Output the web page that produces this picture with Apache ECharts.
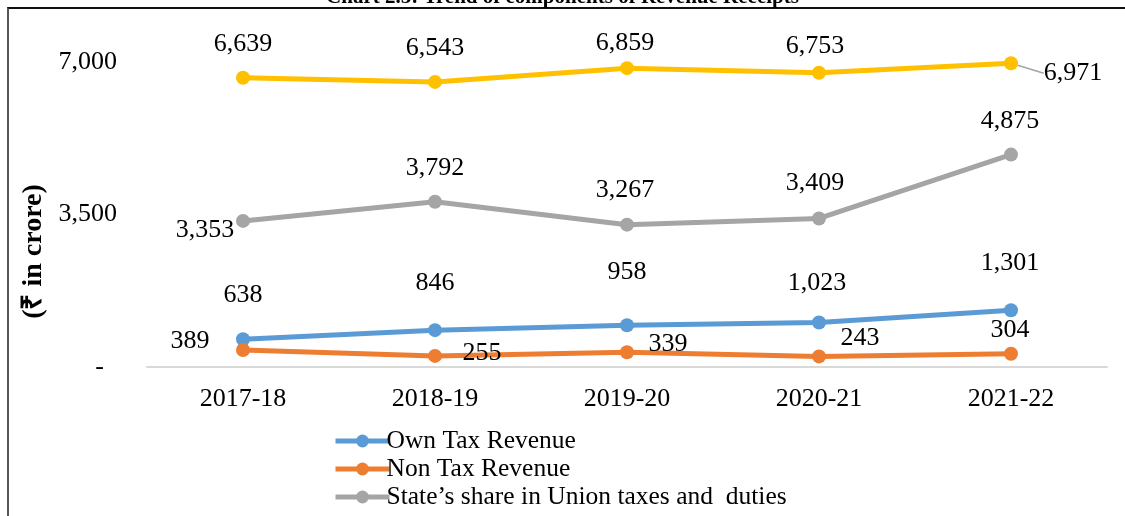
<!DOCTYPE html>
<html>
<head>
<meta charset="utf-8">
<script src="https://cdn.jsdelivr.net/npm/echarts@6/dist/echarts.min.js"></script>
<style>
  html, body { margin: 0; padding: 0; background: #fff; }
  #frame { position: absolute; left: 7px; top: 7px; width: 1118px; height: 509px;
           border-top: 2px solid #111; border-left: 2px solid #555; }
  #chartRevenue { position: absolute; left: 0; top: 0; width: 1125px; height: 516px; }
</style>
</head>
<body>
<div id="frame"></div>
<div id="chartRevenue"></div>
<script>
  // data (₹ in crore)
  var years = ['2017-18', '2018-19', '2019-20', '2020-21', '2021-22'];
  var ownTax = [638, 846, 958, 1023, 1301];
  var nonTax = [389, 255, 339, 243, 304];
  var unionShare = [3353, 3792, 3267, 3409, 4875];
  var grants = [6639, 6543, 6859, 6753, 6971];
  var yTicks = [0, 3500, 7000];

  // label offsets (centre of label vs point), as placed in the original
  var offOwn = [[0, -44], [0, -47], [0, -53], [-2, -39], [-1, -47]];
  var offNon = [[-53, -9], [47, -3], [41, -8], [41, -18], [-1, -24]];
  var offShare = [[-38, 9], [0, -34], [-2, -34], [-4, -35], [-1, -33]];
  var offGrant = [[0, -34], [0, -34], [-2, -25], [-4, -27], [62, 10]];

  var serif = '"Liberation Serif", "Times New Roman", serif';

  function withLabels(vals, offs) {
    return vals.map(function (v, i) {
      return { value: v, label: { offset: offs[i] } };
    });
  }

  function fmt(v) {
    return v.toLocaleString('en-US');
  }

  function line(name, color, vals, offs) {
    return {
      name: name,
      type: 'line',
      data: withLabels(vals, offs),
      symbol: 'circle',
      symbolSize: 14,
      lineStyle: { color: color, width: 5 },
      itemStyle: { color: color },
      label: {
        show: true,
        position: 'inside',
        color: '#000',
        fontFamily: serif,
        fontSize: 26,
        formatter: function (p) { return fmt(p.value); }
      },
      emphasis: { disabled: true },
      animation: false
    };
  }

  var myChart = echarts.init(document.getElementById('chartRevenue'));

  // grants series: labels moved by labelLayout, leader line only on the last one
  var yellow = line('Grants-in-aid from Government of India', '#FFC000', grants, offGrant);
  yellow.data = grants.map(function (v, i) {
    return { value: v, labelLine: { show: i === 4 } };
  });
  yellow.labelLine = { show: false, lineStyle: { color: '#A5A5A5', width: 1.5 } };
  yellow.labelLayout = function (p) {
    var o = offGrant[p.dataIndex];
    return { dx: o[0], dy: o[1] };
  };

  var option = {
    backgroundColor: 'transparent',
    title: {
      text: 'Chart 2.5: Trend of components of Revenue Receipts',
      left: 'center',
      top: -18,
      textStyle: { fontFamily: serif, fontSize: 21, fontWeight: 'bold', color: '#000' }
    },
    legend: {
      orient: 'vertical',
      left: 328,
      top: 423,
      height: 300,
      itemWidth: 54,
      itemHeight: 16,
      itemGap: 2,
      lineStyle: { width: 5 },
      data: ['Own Tax Revenue', 'Non Tax Revenue', 'State\u2019s share in Union taxes and  duties'],
      textStyle: { fontFamily: serif, fontSize: 25.5, color: '#000', padding: [0, 0, 0, -8] }
    },
    grid: {
      left: 147,
      right: 18,
      top: 62,
      bottom: 149
    },
    xAxis: {
      type: 'category',
      data: years,
      boundaryGap: true,
      axisLine: { lineStyle: { color: '#D9D9D9', width: 2 } },
      axisTick: { show: false },
      axisLabel: { color: '#000', fontFamily: serif, fontSize: 26, margin: 19 }
    },
    yAxis: {
      type: 'value',
      min: yTicks[0],
      max: yTicks[yTicks.length - 1],
      interval: yTicks[1] - yTicks[0],
      name: '(\u20B9 in crore)',
      nameLocation: 'middle',
      nameRotate: 90,
      nameGap: 94,
      nameTextStyle: { fontFamily: serif, fontSize: 28, fontWeight: 'bold', color: '#000', padding: [0, 74, 0, 0] },
      axisLine: { show: false },
      axisTick: { show: false },
      splitLine: { show: false },
      axisLabel: {
        color: '#000',
        fontFamily: serif,
        fontSize: 26,
        margin: 30,
        formatter: function (v) { return v === 0 ? '-  ' : fmt(v); }
      }
    },
    series: [
      line('Own Tax Revenue', '#5B9BD5', ownTax, offOwn),
      line('Non Tax Revenue', '#ED7D31', nonTax, offNon),
      line('State\u2019s share in Union taxes and  duties', '#A5A5A5', unionShare, offShare),
      yellow
    ]
  };

  myChart.setOption(option);
</script>
</body>
</html>
